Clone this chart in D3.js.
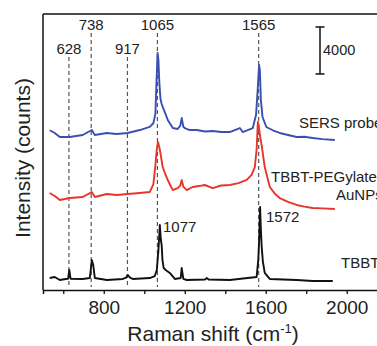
<!DOCTYPE html>
<html>
<head>
<meta charset="utf-8">
<script src="https://cdn.jsdelivr.net/npm/d3@7"></script>
<style>
  body { margin: 0; background: #fff; }
  svg { display: block; font-family: Arial, "Liberation Sans", sans-serif; }
</style>
</head>
<body>
<div id="chart"></div>
<script>
// spectra, values in counts (already stacked with offsets)
const sersShift = [533, 558, 583, 632, 696, 741, 756, 815, 864, 918, 978, 1027, 1045, 1055, 1061, 1066, 1070, 1074, 1080, 1085, 1093, 1105, 1116, 1141, 1165, 1178, 1185, 1193, 1200, 1225, 1259, 1300, 1338, 1380, 1422, 1472, 1486, 1536, 1552, 1560, 1567, 1571, 1576, 1584, 1603, 1635, 1669, 1710, 1753, 1790, 1832, 1880, 1941];
const sersCounts = [13600, 13370, 13030, 13030, 13200, 13620, 13200, 13370, 13280, 13370, 13620, 13890, 14200, 15000, 18000, 20180, 19600, 17800, 16300, 15900, 15500, 15000, 14470, 13790, 13710, 14000, 14640, 13900, 13790, 13620, 13620, 13500, 13540, 13450, 13450, 13790, 13450, 13790, 14900, 17000, 19160, 18700, 16200, 14730, 13880, 13600, 13370, 13200, 13030, 13050, 12940, 12850, 12770];

const pegShift = [533, 558, 583, 632, 696, 741, 756, 815, 864, 918, 978, 1027, 1045, 1055, 1062, 1068, 1074, 1080, 1091, 1103, 1116, 1141, 1165, 1178, 1185, 1193, 1210, 1239, 1270, 1299, 1338, 1380, 1422, 1465, 1506, 1530, 1546, 1555, 1561, 1566, 1572, 1580, 1595, 1620, 1645, 1669, 1710, 1753, 1790, 1832, 1880, 1941];
const pegCounts = [8260, 8000, 7660, 7830, 7920, 8340, 7920, 8170, 8090, 8170, 8260, 8340, 9000, 10600, 12000, 12600, 12200, 11660, 10470, 9900, 9370, 8510, 8680, 8900, 9370, 8800, 8510, 8770, 8850, 8940, 8680, 8900, 8940, 9100, 9370, 9800, 10470, 12000, 14300, 13900, 13100, 12300, 10470, 8770, 8200, 7830, 7500, 7240, 7100, 6980, 6950, 6900];

const tbbtShift = [533, 558, 583, 612, 624, 630, 636, 696, 731, 737, 741, 748, 756, 815, 894, 910, 918, 930, 943, 1027, 1052, 1062, 1070, 1077, 1082, 1086, 1090, 1096, 1106, 1126, 1151, 1180, 1185, 1193, 1210, 1300, 1309, 1318, 1422, 1555, 1563, 1568, 1572, 1576, 1580, 1586, 1595, 1620, 1753, 1832, 1931];
const tbbtCounts = [1020, 1110, 850, 940, 960, 1700, 960, 940, 1020, 1900, 2550, 2130, 1020, 850, 940, 1050, 1280, 1050, 940, 1020, 1190, 1700, 3400, 5530, 4300, 3830, 2550, 1870, 1700, 1450, 940, 1020, 1870, 940, 850, 900, 1020, 900, 850, 1110, 2550, 4510, 7070, 5110, 3660, 2400, 1450, 940, 850, 770, 770];

const peakShift = [628, 738, 917, 1065, 1565];
const peakLabels = ['628', '738', '917', '1065', '1565'];
const peakRow = [1, 0, 1, 0, 0];

const xTicks = [600, 800, 1000, 1200, 1400, 1600, 1800, 2000];
const xTickLabels = ['', '800', '', '1200', '', '1600', '', '2000'];

const width = 377, height = 346;
const margin = { top: 14, left: 43, bottom: 56 };
const plotBottom = height - margin.bottom;

const svg = d3.select('#chart')
  .append('svg')
  .attr('width', width)
  .attr('height', height);

const x = d3.scaleLinear().domain([500, 2200]).range([margin.left, margin.left + 1700 * 0.2025]);
const y = d3.scaleLinear().domain([0, 23500]).range([plotBottom, margin.top]);

// dashed peak markers
svg.append('g')
  .selectAll('line')
  .data(peakShift)
  .join('line')
  .attr('x1', d => x(d))
  .attr('x2', d => x(d))
  .attr('y1', (d, i) => peakRow[i] ? 57 : 33)
  .attr('y2', 287)
  .attr('stroke', '#555')
  .attr('stroke-width', 1.2)
  .attr('stroke-dasharray', '4,3');

svg.append('g')
  .selectAll('text')
  .data(peakShift)
  .join('text')
  .attr('x', d => x(d))
  .attr('y', (d, i) => peakRow[i] ? 54 : 30)
  .attr('text-anchor', 'middle')
  .attr('font-size', 15)
  .attr('fill', '#222')
  .text((d, i) => peakLabels[i]);

// spectra
const line = d3.line().x(d => x(d[0])).y(d => y(d[1]));
const spectra = [
  { shift: sersShift, counts: sersCounts, color: '#3a4fb3' },
  { shift: pegShift, counts: pegCounts, color: '#e8352b' },
  { shift: tbbtShift, counts: tbbtCounts, color: '#111' }
];
spectra.forEach(s => {
  svg.append('path')
    .datum(d3.zip(s.shift, s.counts))
    .attr('d', line)
    .attr('fill', 'none')
    .attr('stroke', s.color)
    .attr('stroke-width', 1.9)
    .attr('stroke-linejoin', 'round');
});

// axes
const xAxis = d3.axisBottom(x)
  .tickValues(xTicks)
  .tickFormat((d, i) => xTickLabels[i])
  .tickSize(4)
  .tickPadding(7);

const gx = svg.append('g')
  .attr('transform', `translate(0,${plotBottom})`)
  .call(xAxis);
gx.select('.domain').attr('stroke', '#111').attr('stroke-width', 1.5);
gx.selectAll('.tick line').attr('stroke', '#111').attr('stroke-width', 1.3);
gx.selectAll('.tick text')
  .attr('font-size', 19)
  .attr('font-family', 'Arial, "Liberation Sans", sans-serif')
  .attr('fill', '#222');

svg.append('line')
  .attr('x1', margin.left).attr('x2', margin.left)
  .attr('y1', margin.top).attr('y2', plotBottom)
  .attr('stroke', '#111').attr('stroke-width', 1.5);
svg.append('line')
  .attr('x1', margin.left).attr('x2', width)
  .attr('y1', margin.top).attr('y2', margin.top)
  .attr('stroke', '#111').attr('stroke-width', 1.5);

// scale bar 4000 counts
const barX = 320, barTop = 27;
const barBottom = barTop + (y(0) - y(4000));
const bar = svg.append('g').attr('stroke', '#111').attr('stroke-width', 1.5);
bar.append('line').attr('x1', barX).attr('x2', barX).attr('y1', barTop).attr('y2', barBottom);
bar.append('line').attr('x1', barX - 4.5).attr('x2', barX + 4.5).attr('y1', barTop).attr('y2', barTop);
bar.append('line').attr('x1', barX - 4.5).attr('x2', barX + 4.5).attr('y1', barBottom).attr('y2', barBottom);
svg.append('text')
  .attr('x', barX + 3).attr('y', (barTop + barBottom) / 2 + 5)
  .attr('font-size', 14.5).attr('fill', '#222')
  .text('4000');

// peak annotations and series labels (cut at the right edge as in the source figure)
const notes = [
  { t: '1077', x: 163, y: 232, s: 15 },
  { t: '1572', x: 266, y: 222, s: 15 },
  { t: 'SERS probe', x: 299, y: 128, s: 15 },
  { t: 'TBBT-PEGylated', x: 271, y: 182, s: 15 },
  { t: 'AuNPs', x: 336, y: 200, s: 15 },
  { t: 'TBBT', x: 341, y: 268, s: 15 }
];
svg.append('g')
  .selectAll('text')
  .data(notes)
  .join('text')
  .attr('x', d => d.x)
  .attr('y', d => d.y)
  .attr('font-size', d => d.s)
  .attr('fill', '#222')
  .text(d => d.t);

// axis titles
const xt = svg.append('text')
  .attr('x', 213).attr('y', 341)
  .attr('text-anchor', 'middle')
  .attr('font-size', 21)
  .attr('fill', '#222');
xt.append('tspan').text('Raman shift (cm');
xt.append('tspan').attr('font-size', 13).attr('dy', -8).text('-1');
xt.append('tspan').attr('dy', 8).text(')');

svg.append('text')
  .attr('transform', 'translate(30,158) rotate(-90)')
  .attr('text-anchor', 'middle')
  .attr('font-size', 21)
  .attr('fill', '#222')
  .text('Intensity (counts)');
</script>
</body>
</html>
